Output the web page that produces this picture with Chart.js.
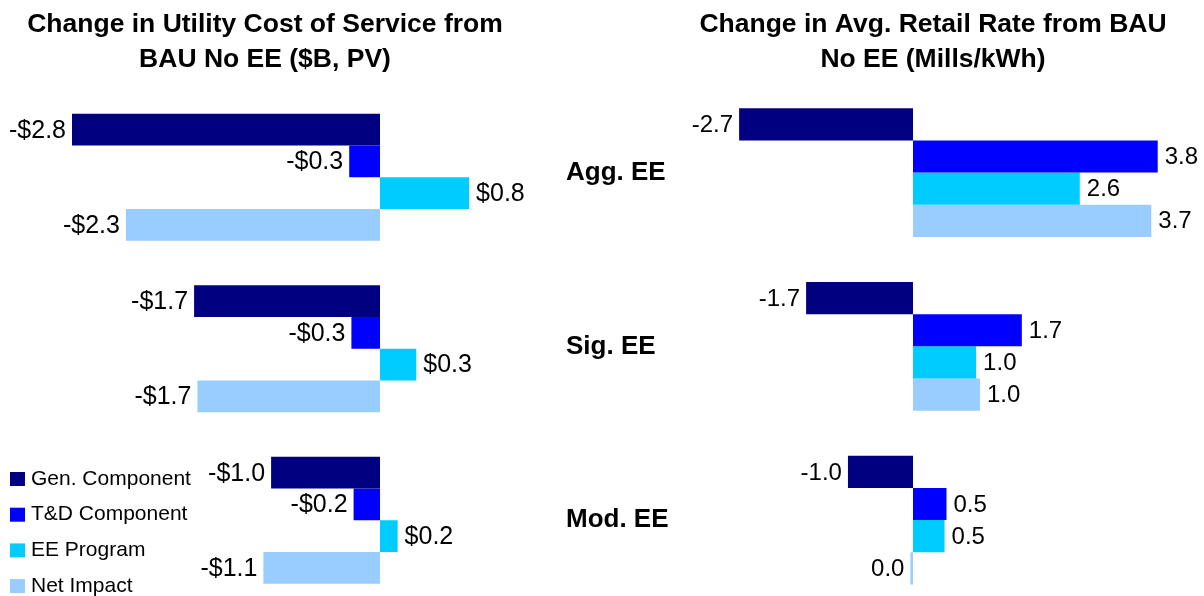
<!DOCTYPE html>
<html>
<head>
<meta charset="utf-8">
<script src="https://cdn.jsdelivr.net/npm/chart.js@4/dist/chart.umd.min.js"></script>
<style>
  html, body { margin: 0; padding: 0; background: #fff; overflow: hidden; }
  #wrap { position: relative; width: 1204px; height: 596px; overflow: hidden; }
  #costChart { position: absolute; left: 0; top: 0; }
  #rateChart { position: absolute; left: 566px; top: 0; }
</style>
</head>
<body>
<div id="wrap">
  <canvas id="costChart" width="530" height="606"></canvas>
  <canvas id="rateChart" width="734" height="607"></canvas>
</div>
<script>
const categories = ['Agg. EE', 'Sig. EE', 'Mod. EE']
const seriesNames = ['Gen. Component', 'T&D Component', 'EE Program', 'Net Impact']
const seriesColors = ['#000080', '#0000FF', '#00CCFF', '#99CCFF']

// $B, PV
const costGen = [-2.8, -1.69, -0.99]
const costTD = [-0.28, -0.26, -0.24]
const costEE = [0.81, 0.33, 0.16]
const costNet = [-2.31, -1.66, -1.06]

// Mills/kWh
const rateGen = [-2.7, -1.66, -1.01]
const rateTD = [3.8, 1.69, 0.52]
const rateEE = [2.59, 0.98, 0.49]
const rateNet = [3.7, 1.04, -0.04]

Chart.defaults.font.family = "'Liberation Sans', Arial, sans-serif"
Chart.defaults.color = '#000'

const makeDatasets = (rows) => rows.map((d, i) => ({
    label: seriesNames[i],
    data: d,
    backgroundColor: seriesColors[i],
    borderWidth: 0,
    categoryPercentage: 0.74,
    barPercentage: 1.0
}))

// value labels next to each bar end
const barLabels = {
    id: 'barLabels',
    afterDatasetsDraw(chart, args, opts) {
        const ctx = chart.ctx
        ctx.save()
        ctx.font = opts.size + "px 'Liberation Sans', Arial, sans-serif"
        ctx.fillStyle = '#000'
        ctx.textBaseline = 'middle'
        chart.data.datasets.forEach((ds, i) => {
            const meta = chart.getDatasetMeta(i)
            meta.data.forEach((bar, j) => {
                const v = ds.data[j]
                const txt = opts.format(v)
                if (v < 0) {
                    ctx.textAlign = 'right'
                    ctx.fillText(txt, bar.x - 6, bar.y + 1)
                } else {
                    ctx.textAlign = 'left'
                    ctx.fillText(txt, bar.x + 7, bar.y + 1)
                }
            })
        })
        ctx.restore()
    }
}

// legend drawn in the lower left corner
const cornerLegend = {
    id: 'cornerLegend',
    afterDraw(chart, args, opts) {
        if (!opts.show) return
        const ctx = chart.ctx
        ctx.save()
        ctx.font = "21px 'Liberation Sans', Arial, sans-serif"
        ctx.textBaseline = 'middle'
        ctx.textAlign = 'left'
        chart.data.datasets.forEach((ds, i) => {
            const y = opts.top + i * opts.step
            ctx.fillStyle = ds.backgroundColor
            ctx.fillRect(opts.left, y - 7, 15, 14)
            ctx.fillStyle = '#000'
            ctx.fillText(ds.label, opts.left + 21, y)
        })
        ctx.restore()
    }
}

const fmt1 = (v) => {
    const s = Math.abs(v).toFixed(1)
    return (v < 0 && s !== '0.0') ? '-' + s : s
}
const fmtDollar = (v) => {
    const s = Math.abs(v).toFixed(1)
    return (v < 0 ? '-$' : '$') + s
}

const titleOpts = (lines, padBottom) => ({
    display: true,
    text: lines,
    color: '#000',
    font: { size: 26.5, weight: 'bold', lineHeight: 1.32 },
    padding: { top: 7.5, bottom: padBottom }
})

const costChart = new Chart(document.getElementById('costChart'), {
    type: 'bar',
    data: {
        labels: categories,
        datasets: makeDatasets([costGen, costTD, costEE, costNet])
    },
    options: {
        indexAxis: 'y',
        responsive: false,
        animation: false,
        layout: { padding: 0 },
        scales: {
            x: { display: false, min: -380 / 110, max: 150 / 110 },
            y: { display: false }
        },
        plugins: {
            legend: { display: false },
            tooltip: { enabled: false },
            title: titleOpts(['Change in Utility Cost of Service from', 'BAU No EE ($B, PV)'], 14),
            barLabels: { format: fmtDollar, size: 25 },
            cornerLegend: { show: true, left: 10, top: 479, step: 35.7 }
        }
    },
    plugins: [barLabels, cornerLegend]
})

const rateChart = new Chart(document.getElementById('rateChart'), {
    type: 'bar',
    data: {
        labels: categories,
        datasets: makeDatasets([rateGen, rateTD, rateEE, rateNet])
    },
    options: {
        indexAxis: 'y',
        responsive: false,
        animation: false,
        layout: { padding: 0 },
        scales: {
            x: { display: false, min: (700 - 913) / 64.4, max: (1300 - 913) / 64.4 },
            y: {
                grid: { display: false },
                border: { display: false },
                afterFit: (scale) => {
                    scale.width = 134
                    scale.paddingTop = 0
                    scale.paddingBottom = 0
                },
                ticks: {
                    crossAlign: 'far',
                    color: '#000',
                    font: { size: 26, weight: 'bold' }
                }
            }
        },
        plugins: {
            legend: { display: false },
            tooltip: { enabled: false },
            title: titleOpts(['Change in Avg. Retail Rate from BAU', 'No EE (Mills/kWh)'], 8.25),
            barLabels: { format: fmt1, size: 24 },
            cornerLegend: { show: false }
        }
    },
    plugins: [barLabels, cornerLegend]
})
</script>
</body>
</html>
